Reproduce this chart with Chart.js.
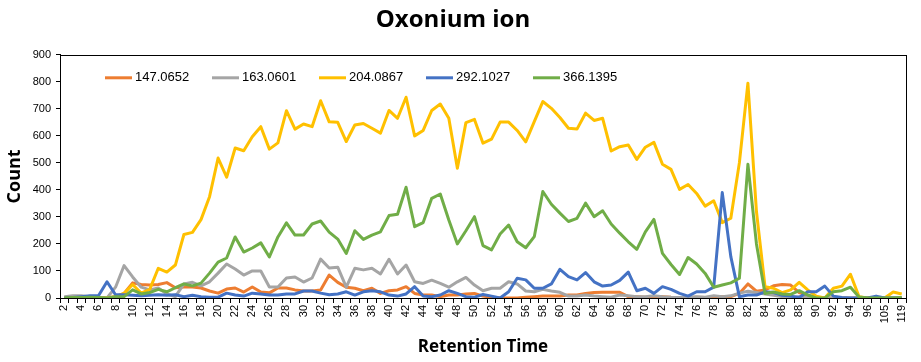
<!DOCTYPE html>
<html>
<head>
<meta charset="utf-8">
<script src="https://cdn.jsdelivr.net/npm/chart.js@4.4.1/dist/chart.umd.min.js"></script>
<style>
  html, body { margin: 0; padding: 0; background: #fff; }
  #wrap { width: 921px; height: 362px; }
</style>
</head>
<body>
<div id="wrap"><canvas id="chart" width="921" height="362"></canvas></div>
<script>
// retention time categories (two labels not shown on the axis)
const rtLabels = [];
for (let t = 2; t <= 96; t++) rtLabels.push(String(t));
rtLabels.push("98", "105", "110", "119");

const seriesNames = ["147.0652", "163.0601", "204.0867", "292.1027", "366.1395"];
const seriesColors = ["#ED7D31", "#A5A5A5", "#FFC000", "#4472C4", "#70AD47"];

const ion147 = [
  0, 0, 0, 0, 0, 0, 5, 17, 56, 50, 48, 50, 57, 38, 41, 41, 37,
  26, 18, 33, 37, 22, 41, 22, 19, 37, 37, 30, 26, 26, 30, 85, 58,
  40, 36, 27, 36, 17, 27, 30, 42, 17, 11, 11, 5, 11, 11, 15, 17,
  7, 3, 0, 0, 0, 3, 5, 7, 7, 7, 11, 11, 17, 20, 21, 21, 21,
  5, 5, 3, 5, 5, 3, 2, 2, 3, 2, 3, 5, 5, 17, 52, 25,
  30, 45, 50, 48, 20, 10, 3, 0, 0, 0, 0, 0, 0, 0, 0, 0, 0
];
const ion163 = [
  5, 8, 8, 5, 2, 0, 40, 120, 78, 40, 30, 37, 15, 5, 52, 58, 45,
  60, 92, 126, 107, 85, 100, 100, 41, 41, 74, 78, 59, 74, 144, 111, 114,
  40, 110, 104, 110, 89, 143, 89, 122, 60, 54, 66, 54, 40, 60, 76, 48,
  27, 36, 36, 60, 52, 26, 23, 32, 26, 21, 7, 7, 11, 7, 5, 3, 11,
  8, 5, 5, 8, 5, 3, 2, 3, 5, 3, 8, 5, 8, 18, 25, 20,
  15, 10, 5, 3, 5, 2, 0, 0, 0, 0, 0, 0, 0, 0, 0, 0, 0
];
const ion204 = [
  0, 0, 0, 0, 0, 0, 5, 17, 50, 18, 32, 110, 96, 122, 235, 243, 290,
  375, 518, 447, 555, 545, 597, 634, 551, 574, 693, 625, 644, 634, 730, 652, 650,
  579, 640, 646, 628, 610, 694, 665, 743, 600, 620, 694, 718, 665, 480, 649, 661,
  573, 588, 651, 651, 620, 578, 653, 727, 702, 668, 628, 625, 684, 657, 665, 544, 560,
  566, 513, 558, 576, 495, 476, 402, 420, 387, 340, 360, 279, 295, 500, 795, 320,
  42, 36, 20, 30, 58, 30, 7, 0, 36, 44, 88, 5, 0, 0, 0, 22, 15
];
const ion292 = [
  0, 2, 5, 8, 8, 60, 12, 12, 10, 8, 10, 12, 10, 12, 5, 10, 5,
  3, 3, 18, 11, 7, 18, 15, 11, 11, 15, 15, 26, 26, 18, 12, 15,
  23, 11, 23, 27, 23, 11, 7, 15, 42, 7, 5, 11, 27, 17, 5, 3,
  13, 7, 0, 23, 73, 67, 36, 36, 52, 106, 79, 67, 94, 60, 44, 48, 65,
  96, 27, 36, 17, 42, 32, 17, 7, 23, 23, 40, 390, 153, 5, 11, 11,
  23, 20, 10, 7, 2, 23, 23, 44, 7, 2, 0, 0, 0, 7, 0, 0, 0
];
const ion366 = [
  0, 2, 2, 3, 2, 0, 5, 5, 30, 15, 20, 32, 23, 38, 52, 45, 55,
  92, 133, 148, 226, 170, 185, 204, 152, 226, 278, 233, 233, 274, 285, 244, 218,
  165, 249, 217, 233, 245, 305, 310, 410, 264, 279, 369, 385, 289, 200, 249, 301,
  194, 178, 237, 270, 208, 186, 227, 394, 347, 314, 283, 295, 351, 301, 323, 274, 240,
  208, 180, 245, 291, 165, 124, 87, 150, 126, 91, 40, 48, 56, 73, 495, 200,
  17, 22, 15, 13, 27, 11, 0, 0, 23, 27, 40, 4, 0, 0, 0, 0, 2
];
const seriesValues = [ion147, ion163, ion204, ion292, ion366];

const yTicks = [0, 100, 200, 300, 400, 500, 600, 700, 800, 900];

const tickFont = { family: "'Liberation Sans', Arial, sans-serif", size: 11 };
const titleFamily = "'Open Sans', 'Liberation Sans', sans-serif";

// frame round the plot area and the legend drawn inside it
const frameAndLegend = {
  id: "frameAndLegend",
  afterDraw(chart) {
    const ctx = chart.ctx;
    const a = chart.chartArea;
    ctx.save();
    ctx.strokeStyle = "#000";
    ctx.lineWidth = 1;
    ctx.strokeRect(Math.round(a.left) + 0.5, Math.round(a.top) + 0.5,
      Math.round(a.right - a.left), Math.round(a.bottom - a.top));

    ctx.font = "13px 'Liberation Sans', Arial, sans-serif";
    ctx.textBaseline = "middle";
    let x = a.left + 45;
    const y = a.top + 23;
    chart.data.datasets.forEach((ds) => {
      ctx.strokeStyle = ds.borderColor;
      ctx.lineWidth = 3;
      ctx.beginPath();
      ctx.moveTo(x, y);
      ctx.lineTo(x + 27, y);
      ctx.stroke();
      ctx.fillStyle = "#000";
      ctx.fillText(ds.label, x + 30, y);
      x += 107;
    });
    ctx.restore();
  }
};

const datasets = seriesNames.map((name, i) => ({
  label: name,
  data: seriesValues[i],
  borderColor: seriesColors[i],
  backgroundColor: seriesColors[i],
  borderWidth: 3,
  pointRadius: 0,
  tension: 0,
  fill: false,
  order: seriesNames.length - i,
  borderJoinStyle: "round"
}));

new Chart(document.getElementById("chart").getContext("2d"), {
  type: "line",
  data: { labels: rtLabels, datasets: datasets },
  options: {
    responsive: false,
    animation: false,
    layout: { padding: { right: 15 } },
    plugins: {
      legend: { display: false },
      tooltip: { enabled: false },
      title: {
        display: true,
        text: "Oxonium ion",
        color: "#000",
        font: { family: titleFamily, size: 24, weight: "bold" },
        padding: { top: 6, bottom: 20 }
      }
    },
    scales: {
      x: {
        type: "category",
        offset: true,
        grid: { display: true, drawOnChartArea: false, drawTicks: true, tickLength: 5, color: "#000", offset: true },
        border: { color: "#000", width: 1 },
        ticks: {
          autoSkip: false,
          maxRotation: 90,
          minRotation: 90,
          padding: 2,
          color: "#000",
          font: tickFont,
          callback: function (val, index) {
            return index % 2 === 0 ? this.getLabelForValue(val) : "";
          }
        },
        title: {
          display: true,
          text: "Retention Time",
          color: "#000",
          font: { family: titleFamily, size: 17, weight: "bold" },
          padding: { top: 2, bottom: 5 }
        },
        afterFit: (scale) => { scale.height = 64; }
      },
      y: {
        min: 0,
        max: 900,
        grid: { display: true, drawOnChartArea: false, drawTicks: true, tickLength: 4, color: "#000" },
        border: { color: "#000", width: 1 },
        afterBuildTicks: (scale) => { scale.ticks = yTicks.map((v) => ({ value: v })); },
        ticks: { color: "#000", font: tickFont, padding: 5 },
        title: {
          display: true,
          text: "Count",
          color: "#000",
          font: { family: titleFamily, size: 18, weight: "bold" },
          padding: { top: 4, bottom: 0 }
        },
        afterFit: (scale) => { scale.width = 60; }
      }
    }
  },
  plugins: [frameAndLegend]
});
</script>
</body>
</html>
